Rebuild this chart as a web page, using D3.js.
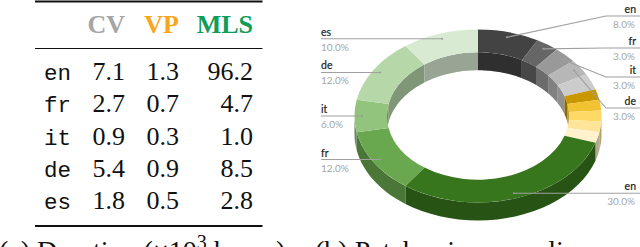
<!DOCTYPE html>
<html>
<head>
<meta charset="utf-8">
<script src="https://cdn.jsdelivr.net/npm/d3@7"></script>
<style>
  html, body { margin: 0; padding: 0; background: #fff; }
  svg { display: block; }
  .pct { fill: #a6a6a6; }
</style>
</head>
<body>
<svg id="chart" width="640" height="247"></svg>
<script>
// table values
const languages = ['en', 'fr', 'it', 'de', 'es'];
const columns = ['CV', 'VP', 'MLS'];
const columnColors = ['#a5a5a5', '#f9a61c', '#0f9d58'];
const cvValues = ['7.1', '2.7', '0.9', '5.4', '1.8'];
const vpValues = ['1.3', '0.7', '0.3', '0.9', '0.5'];
const mlsValues = ['96.2', '4.7', '1.0', '8.5', '2.8'];

// ring values, clockwise from the top
const grayShare = [8, 3, 3, 3, 3];
const yellowShare = [2, 2, 2, 2, 2];
const greenShare = [30, 12, 6, 12, 10];
const grayColors = ['#434343', '#666666', '#999999', '#b7b7b7', '#cccccc'];
const yellowColors = ['#c99700', '#f1c232', '#ffd966', '#ffe599', '#fff2cc'];
const greenColors = ['#38761d', '#6aa84f', '#93c47d', '#b6d7a8', '#d9ead3'];

// which slices carry a label
const labelNames = ['en', 'fr', 'it', 'de', 'en', 'fr', 'it', 'de', 'es'];
const labelSlices = [0, 1, 2, 3, 10, 11, 12, 13, 14];

const svg = d3.select('#chart');
const serif = '"Liberation Serif", serif';
const mono = '"Liberation Mono", monospace';
const labelFont = '"Lato", sans-serif';

// ---- table ----
const rowY = d3.scalePoint().domain(languages).range([80, 209]);
const columnX = { CV: 125, VP: 179, MLS: 253 };

svg.selectAll('.rule')
  .data([[1.5, 2.2], [48.5, 1.2], [226, 2.2]])
  .join('line')
  .attr('x1', 35).attr('x2', 262.5)
  .attr('y1', d => d[0]).attr('y2', d => d[0])
  .attr('stroke', '#111').attr('stroke-width', d => d[1]);

svg.selectAll('.head')
  .data(columns)
  .join('text')
  .attr('x', d => columnX[d])
  .attr('y', 33)
  .attr('text-anchor', 'end')
  .attr('font-family', serif)
  .attr('font-weight', 'bold')
  .attr('font-size', 26)
  .attr('fill', (d, i) => columnColors[i])
  .text(d => d);

svg.selectAll('.lang')
  .data(languages)
  .join('text')
  .attr('x', 44)
  .attr('y', d => rowY(d))
  .attr('font-family', mono)
  .attr('font-size', 22.5)
  .attr('fill', '#111')
  .text(d => d);

[['CV', cvValues], ['VP', vpValues], ['MLS', mlsValues]].forEach(([name, values]) => {
  svg.selectAll('.v' + name)
    .data(values)
    .join('text')
    .attr('x', columnX[name])
    .attr('y', (d, i) => rowY(languages[i]))
    .attr('text-anchor', 'end')
    .attr('font-family', serif)
    .attr('font-size', 26)
    .attr('fill', '#111')
    .text(d => d);
});

// ---- ring ----
const cx = 478, cy = 116;
const outerR = 123.5, innerR = 91, squash = 0.7, depth = 18;

const slices = d3.pie().sort(null).value(d => d.share)(
  [...grayShare.map((s, i) => ({ share: s, color: grayColors[i] })),
   ...yellowShare.map((s, i) => ({ share: s, color: yellowColors[i] })),
   ...greenShare.map((s, i) => ({ share: s, color: greenColors[i] }))]
);

const px = (r, a) => cx + r * Math.sin(a);
const py = (r, a) => cy - r * squash * Math.cos(a);

// side wall between two angles, sampled along the arc
function wall(r, a0, a1) {
  const steps = d3.range(0, 25).map(i => a0 + (a1 - a0) * i / 24);
  const top = steps.map(a => [px(r, a), py(r, a)]);
  const bottom = steps.slice().reverse().map(a => [px(r, a), py(r, a) + depth]);
  return d3.line()(top.concat(bottom)) + 'Z';
}

const ring = svg.append('g');
const halfPi = Math.PI / 2;

// inner wall shows on the far half, outer wall on the near half
slices.forEach(s => {
  const parts = [[s.startAngle, Math.min(s.endAngle, halfPi)],
                 [Math.max(s.startAngle, 3 * halfPi), s.endAngle]];
  parts.filter(p => p[1] > p[0]).forEach(p => {
    ring.append('path').attr('d', wall(innerR, p[0], p[1]))
      .attr('fill', d3.rgb(s.data.color).darker(1));
  });
});
slices.forEach(s => {
  const a0 = Math.max(s.startAngle, halfPi), a1 = Math.min(s.endAngle, 3 * halfPi);
  if (a1 > a0) {
    ring.append('path').attr('d', wall(outerR, a0, a1))
      .attr('fill', d3.rgb(s.data.color).darker(1));
  }
});

const arc = d3.arc().innerRadius(innerR).outerRadius(outerR);
ring.append('g')
  .attr('transform', `translate(${cx},${cy}) scale(1,${squash})`)
  .selectAll('path')
  .data(slices)
  .join('path')
  .attr('d', arc)
  .attr('fill', d => d.data.color);

// ---- leaders ----
const anchorR = 116;
// gray slices on the right bend to their own label row, the rest run flat
const elbowY = { 0: 16, 1: 48, 2: 77, 3: 108 };

labelNames.forEach((name, i) => {
  const index = labelSlices[i];
  const s = slices[index];
  const mid = (s.startAngle + s.endAngle) / 2;
  const mx = px(anchorR, mid), my = py(anchorR, mid);
  const right = mid < Math.PI;
  const y = elbowY[index] !== undefined ? elbowY[index] : my;
  const points = right
    ? [[mx, my], [606, y], [640, y]]
    : [[mx, my], [321, y]];
  const g = svg.append('g');
  g.append('path')
    .attr('d', d3.line()(points))
    .attr('fill', 'none').attr('stroke', '#a0a0a0').attr('stroke-width', 1.1);
  g.append('circle').attr('cx', mx).attr('cy', my).attr('r', 1).attr('fill', '#999');
  g.append('text')
    .attr('x', right ? 636 : 321).attr('y', y - 3)
    .attr('text-anchor', right ? 'end' : 'start')
    .attr('font-family', labelFont).attr('font-size', 10.5)
    .attr('fill', '#222').attr('stroke', '#222').attr('stroke-width', 0.2)
    .text(name);
  g.append('text').attr('class', 'pct')
    .attr('x', right ? 635 : 321).attr('y', y + 12)
    .attr('text-anchor', right ? 'end' : 'start')
    .attr('font-family', labelFont).attr('font-size', 10)
    .text(d3.format('.1f')(s.data.share) + '%');
});

// ---- captions, the picture edge cuts them off as in the source ----
const captionA = svg.append('text').attr('x', -1).attr('y', 260)
  .attr('font-family', serif).attr('font-size', 28).attr('fill', '#111');
captionA.append('tspan').text('(a) Duration (×10');
captionA.append('tspan').attr('dy', -11).attr('font-size', 20).text('3');
captionA.append('tspan').attr('dy', 11).text(' hours)');
svg.append('text').attr('x', 315).attr('y', 260)
  .attr('font-family', serif).attr('font-size', 28).attr('fill', '#111')
  .text('(b) Patches in our online mentions');
</script>
</body>
</html>
